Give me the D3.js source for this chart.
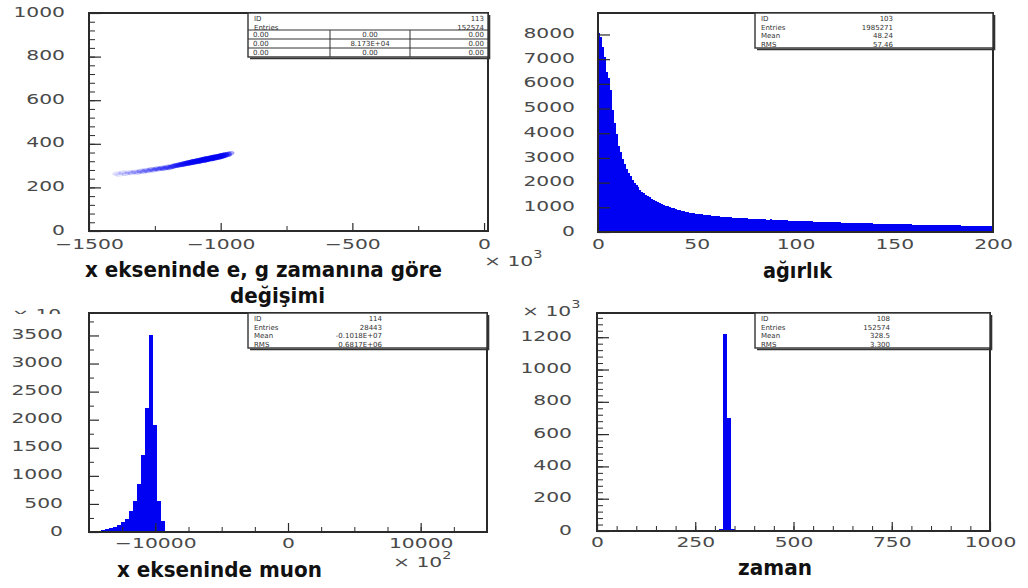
<!DOCTYPE html>
<html>
<head>
<meta charset="utf-8">
<script src="https://cdn.jsdelivr.net/npm/d3@7"></script>
<style>
  body { margin: 0; background: #fff; }
  svg { display: block; }
  .tick-label { font-family: "DejaVu Sans", sans-serif; font-size: 14px; fill: #4a4a4a; }
  .title { font-family: "DejaVu Sans", sans-serif; font-weight: bold; font-size: 21px; fill: #111; }
  .stat { font-family: "DejaVu Sans", sans-serif; font-size: 7px; fill: #333; }
</style>
</head>
<body>
<div class="chart"></div>
<script>
// ---------- data ----------

// top left: x ekseninde e, g zamanina gore degisimi (scatter)
var scatterX = [-1395, -1385, -1372, -1360, -1348, -1338, -1326, -1315, -1304, -1294, -1284, -1274, -1264, -1254,
    -1244, -1234, -1224, -1214, -1204, -1194, -1184, -1174, -1164, -1154, -1144, -1134, -1124, -1114, -1104,
    -1094, -1084, -1074, -1064, -1054, -1044, -1034, -1024, -1014, -1004, -994, -984, -974, -964];
var scatterY = [264, 258, 268, 262, 270, 266, 272, 268, 276, 272, 279, 276, 283, 280,
    286, 284, 289, 287, 293, 291, 296, 299, 302, 304, 307, 309, 312, 314, 317,
    319, 322, 324, 327, 329, 332, 334, 337, 339, 342, 345, 348, 351, 356];
var scatterW = [0.15, 0.12, 0.18, 0.2, 0.2, 0.22, 0.25, 0.25, 0.3, 0.3, 0.32, 0.35, 0.35, 0.38,
    0.4, 0.42, 0.45, 0.45, 0.5, 0.5, 0.55, 0.6, 0.65, 0.7, 0.75, 0.8, 0.85, 0.88, 0.9,
    0.92, 0.95, 0.97, 1, 1, 1, 1, 1, 1, 1, 0.95, 0.85, 0.7, 0.45];

// top right: agirlik histogram, bins of 1 from 0 to 200
var weightStart = 0, weightBinWidth = 1;
var weightCounts = [
    8050, 7900, 7500, 7100, 6500, 6250, 5750, 4950, 4400, 3950,
    3500, 3250, 2950, 2750, 2560, 2380, 2250, 2120, 1990, 1900,
    1810, 1720, 1640, 1580, 1510, 1450, 1400, 1340, 1290, 1250,
    1210, 1170, 1130, 1100, 1070, 1040, 1010, 985, 955, 930,
    910, 885, 865, 845, 825, 805, 785, 770, 755, 740,
    740, 728, 716, 705, 694, 684, 674, 665, 656, 648,
    640, 632, 625, 618, 611, 604, 598, 592, 586, 580,
    574, 568, 563, 558, 553, 548, 543, 538, 534, 530,
    526, 530, 518, 514, 510, 506, 502, 508, 494, 490,
    486, 482, 478, 474, 471, 467, 464, 460, 457, 454,
    450, 447, 444, 448, 438, 435, 432, 429, 426, 423,
    420, 417, 414, 411, 408, 405, 402, 399, 397, 394,
    391, 388, 386, 383, 380, 378, 375, 373, 370, 368,
    365, 363, 360, 358, 356, 353, 351, 349, 346, 344,
    342, 340, 338, 335, 333, 331, 329, 327, 325, 323,
    321, 319, 317, 315, 313, 311, 309, 307, 305, 303,
    301, 299, 298, 296, 294, 292, 290, 289, 287, 285,
    284, 282, 280, 279, 277, 276, 274, 273, 271, 270,
    268, 267, 265, 264, 262, 261, 260, 258, 257, 256,
    254, 253, 252, 250, 249, 248, 247, 245, 244, 243
];

// bottom left: x ekseninde muon, bins of 300 (x 10^2) from -15000
var muonStart = -15000, muonBinWidth = 300;
var muonCounts = [0, 10, 25, 35, 50, 70, 95, 130, 170, 240, 380, 560, 850, 1380, 2200, 3500, 1900, 550, 200, 0];

// bottom right: zaman, bins of 10
var timeBinStart = [310, 320, 330, 340];
var timeBinWidth = 10;
var timeCounts = [15, 1220, 700, 10];

// tick labels
var p1XTicks = [-1500, -1000, -500, 0];
var p1YTicks = [0, 200, 400, 600, 800, 1000];
var p2XTicks = [0, 50, 100, 150, 200];
var p2YTicks = [0, 1000, 2000, 3000, 4000, 5000, 6000, 7000, 8000];
var p3XTicks = [-10000, 0, 10000];
var p3YTicks = [0, 500, 1000, 1500, 2000, 2500, 3000, 3500];
var p4XTicks = [0, 250, 500, 750, 1000];
var p4YTicks = [0, 200, 400, 600, 800, 1000, 1200];

// stats boxes
var statsScatterHead = [["ID", "113"], ["Entries", "152574"]];
var statsScatterGrid = [["0.00", "0.00", "0.00"], ["0.00", "8.173E+04", "0.00"], ["0.00", "0.00", "0.00"]];
var statsWeight = [["ID", "103"], ["Entries", "1985271"], ["Mean", "48.24"], ["RMS", "57.46"]];
var statsMuon = [["ID", "114"], ["Entries", "28443"], ["Mean", "-0.1018E+07"], ["RMS", "0.6817E+06"]];
var statsTime = [["ID", "108"], ["Entries", "152574"], ["Mean", "328.5"], ["RMS", "3.300"]];

// ---------- drawing ----------
var svgWidth = 1028, svgHeight = 588;
var blue = "#0000f2";
var frameColor = "#2a2a2a";
var labelScale = 1.45;

var svg = d3.select(".chart").append("svg")
    .attr("width", svgWidth)
    .attr("height", svgHeight);

function restyleLabels(axisG, orient) {
    axisG.selectAll("text")
        .attr("class", "tick-label")
        .attr("transform", `scale(${labelScale},1)`);
    if (orient == "left") {
        axisG.selectAll("text")
            .attr("x", function() { return +d3.select(this).attr("x") / labelScale; })
            .attr("dy", "0.22em");
    }
}

function drawAxes(g, x, y, box, o) {
    // y minor ticks
    if (o.yMinor) {
        var ym = g.append("g").attr("transform", `translate(${box.left},0)`)
            .call(d3.axisLeft(y).tickValues(o.yMinor).tickSize(-o.yMinorLen).tickFormat(""));
        ym.select(".domain").remove();
        ym.selectAll("line").attr("stroke", frameColor);
    }
    var yg = g.append("g").attr("transform", `translate(${box.left},0)`)
        .call(d3.axisLeft(y).tickValues(o.yTicks).tickSize(-o.yLen).tickPadding(o.yPad).tickFormat(d3.format("d")));
    yg.select(".domain").remove();
    yg.selectAll("line").attr("stroke", frameColor).attr("stroke-width", 1.2);
    restyleLabels(yg, "left");

    if (o.xMinor) {
        var xm = g.append("g").attr("transform", `translate(0,${box.bottom})`)
            .call(d3.axisBottom(x).tickValues(o.xMinor).tickSize(-o.xMinorLen).tickFormat(""));
        xm.select(".domain").remove();
        xm.selectAll("line").attr("stroke", frameColor);
    }
    var xg = g.append("g").attr("transform", `translate(0,${box.bottom})`)
        .call(d3.axisBottom(x).tickValues(o.xTicks).tickSize(-o.xLen).tickPadding(o.xPad).tickFormat(d3.format("d")));
    xg.select(".domain").remove();
    xg.selectAll("line").attr("stroke", frameColor).attr("stroke-width", 1.2);
    restyleLabels(xg, "bottom");

    g.append("rect")
        .attr("x", box.left).attr("y", box.top)
        .attr("width", box.right - box.left).attr("height", box.bottom - box.top)
        .attr("fill", "none").attr("stroke", frameColor).attr("stroke-width", 2);
}

function statBox(g, b, rows, valueX) {
    g.append("rect").attr("x", b.x).attr("y", b.y).attr("width", b.w).attr("height", b.h)
        .attr("fill", "#fff").attr("stroke", "#333").attr("stroke-width", 1.4);
    g.append("path")
        .attr("d", `M${b.x + b.w + 1.5},${b.y + 2}V${b.y + b.h + 1.5}H${b.x + 2}`)
        .attr("fill", "none").attr("stroke", "#333").attr("stroke-width", 1.6);
    rows.forEach(function(r, i) {
        var ty = b.y + 8 + i * 8.6;
        g.append("text").attr("class", "stat").attr("x", b.x + 6).attr("y", ty).text(r[0]);
        g.append("text").attr("class", "stat").attr("x", valueX).attr("y", ty)
            .attr("text-anchor", "end").text(r[1]);
    });
}

function histArea(x, y, starts, counts, width) {
    var pts = counts.map((c, i) => ({ x0: starts[i], c: c }));
    pts.push({ x0: starts[starts.length - 1] + width, c: counts[counts.length - 1] });
    return d3.area()
        .x(d => x(d.x0))
        .y0(y(0))
        .y1(d => y(d.c))
        .curve(d3.curveStepAfter)(pts);
}

function expLabel(parent, xp, yp, exp) {
    var t = parent.append("text").attr("class", "tick-label")
        .attr("transform", `translate(${xp},${yp}) scale(${labelScale},1)`);
    t.append("tspan").text("\u00d7 10");
    t.append("tspan").attr("dy", -8).attr("font-size", 10).text(exp);
    return t;
}

function title(txt, xp, yp, len) {
    svg.append("text").attr("class", "title")
        .attr("x", xp).attr("y", yp)
        .attr("textLength", len).attr("lengthAdjust", "spacingAndGlyphs")
        .text(txt);
}

// ---- panel 1: scatter ----
var box1 = { left: 89, right: 488, top: 13, bottom: 231 };
var x1 = d3.scaleLinear().domain([-1500, 15]).range([box1.left, box1.right]);
var y1 = d3.scaleLinear().domain([0, 1000]).range([box1.bottom, box1.top]);
var g1 = svg.append("g");
g1.selectAll("ellipse")
    .data(scatterX.map((v, i) => ({ x: v, y: scatterY[i], w: scatterW[i] })))
    .enter()
    .append("ellipse")
    .attr("transform", d => `translate(${x1(d.x)},${y1(d.y)}) rotate(-10.5)`)
    .attr("rx", 4.4)
    .attr("ry", d => 1.8 + d.w * 1.2)
    .attr("fill", blue)
    .attr("opacity", d => d.w * 0.8);
drawAxes(g1, x1, y1, box1, {
    yTicks: p1YTicks, yLen: 12, yPad: 24, yMinor: d3.range(0, 1001, 40), yMinorLen: 6,
    xTicks: p1XTicks, xLen: 8, xPad: 8, xMinor: [-1250, -750, -250], xMinorLen: 5
});
statBox(g1, { x: 248, y: 13, w: 240, h: 44 }, statsScatterHead, 484);
[30, 39, 48].forEach(function(ly) {
    g1.append("line").attr("x1", 248).attr("x2", 488).attr("y1", ly).attr("y2", ly)
        .attr("stroke", "#333").attr("stroke-width", 1);
});
[330, 410].forEach(function(lx) {
    g1.append("line").attr("x1", lx).attr("x2", lx).attr("y1", 30).attr("y2", 57)
        .attr("stroke", "#333").attr("stroke-width", 1);
});
statsScatterGrid.forEach(function(row, i) {
    var ty = 37 + i * 9;
    g1.append("text").attr("class", "stat").attr("x", 253).attr("y", ty).text(row[0]);
    g1.append("text").attr("class", "stat").attr("x", 370).attr("y", ty).attr("text-anchor", "middle").text(row[1]);
    g1.append("text").attr("class", "stat").attr("x", 484).attr("y", ty).attr("text-anchor", "end").text(row[2]);
});
expLabel(svg, 484, 266, "3");

// ---- panel 2: agirlik ----
var box2 = { left: 598, right: 993, top: 13, bottom: 232 };
var x2 = d3.scaleLinear().domain([0, 200]).range([box2.left, box2.right]);
var y2 = d3.scaleLinear().domain([0, 8870]).range([box2.bottom, box2.top]);
var g2 = svg.append("g");
g2.append("path")
    .attr("d", histArea(x2, y2, weightCounts.map((c, i) => weightStart + i * weightBinWidth), weightCounts, weightBinWidth))
    .attr("fill", blue)
    .attr("shape-rendering", "crispEdges");
drawAxes(g2, x2, y2, box2, {
    yTicks: p2YTicks, yLen: 12, yPad: 23, yMinor: null,
    xTicks: p2XTicks, xLen: 0, xPad: 7, xMinor: null
});
statBox(g2, { x: 755, y: 13, w: 238, h: 35 }, statsWeight, 893);

// ---- panel 3: muon ----
var box3 = { left: 89, right: 487, top: 313, bottom: 532 };
var x3 = d3.scaleLinear().domain([-15000, 15000]).range([box3.left, box3.right]);
var y3 = d3.scaleLinear().domain([0, 3900]).range([box3.bottom, box3.top]);
var g3 = svg.append("g");
g3.append("path")
    .attr("d", histArea(x3, y3, muonCounts.map((c, i) => muonStart + i * muonBinWidth), muonCounts, muonBinWidth))
    .attr("fill", blue)
    .attr("shape-rendering", "crispEdges");
drawAxes(g3, x3, y3, box3, {
    yTicks: p3YTicks, yLen: 10, yPad: 26, yMinor: d3.range(250, 3900, 500), yMinorLen: 5,
    xTicks: p3XTicks, xLen: 9, xPad: 6, xMinor: d3.range(-12500, 15000, 2500), xMinorLen: 5
});
statBox(g3, { x: 248, y: 313, w: 239, h: 35 }, statsMuon, 382);
expLabel(svg, 393, 567, "2");

// cut-off exponent fragment at the top of the lower-left plot
svg.append("clipPath").attr("id", "cutTop")
    .append("rect").attr("x", 0).attr("y", 306).attr("width", 80).attr("height", 8);
var cutG = svg.append("g").attr("clip-path", "url(#cutTop)");
expLabel(cutG, 12, 319, "");

// ---- panel 4: zaman ----
var box4 = { left: 597, right: 990, top: 313, bottom: 531 };
var x4 = d3.scaleLinear().domain([0, 1000]).range([box4.left, box4.right]);
var y4 = d3.scaleLinear().domain([0, 1350]).range([box4.bottom, box4.top]);
var g4 = svg.append("g");
g4.append("path")
    .attr("d", histArea(x4, y4, timeBinStart, timeCounts, timeBinWidth))
    .attr("fill", blue)
    .attr("shape-rendering", "crispEdges");
drawAxes(g4, x4, y4, box4, {
    yTicks: p4YTicks, yLen: 12, yPad: 25, yMinor: d3.range(40, 1350, 40), yMinorLen: 6,
    xTicks: p4XTicks, xLen: 9, xPad: 6, xMinor: d3.range(50, 1000, 50), xMinorLen: 5
});
statBox(g4, { x: 755, y: 313, w: 235, h: 35 }, statsTime, 890);
expLabel(svg, 522, 316, "3");

// ---- axis titles ----
title("x ekseninde e, g zamanına göre", 85, 277, 357);
title("değişimi", 230, 303, 95);
title("ağırlık", 763, 278, 69);
title("x ekseninde muon", 117, 577, 205);
title("zaman", 738, 575, 74);
</script>
</body>
</html>
